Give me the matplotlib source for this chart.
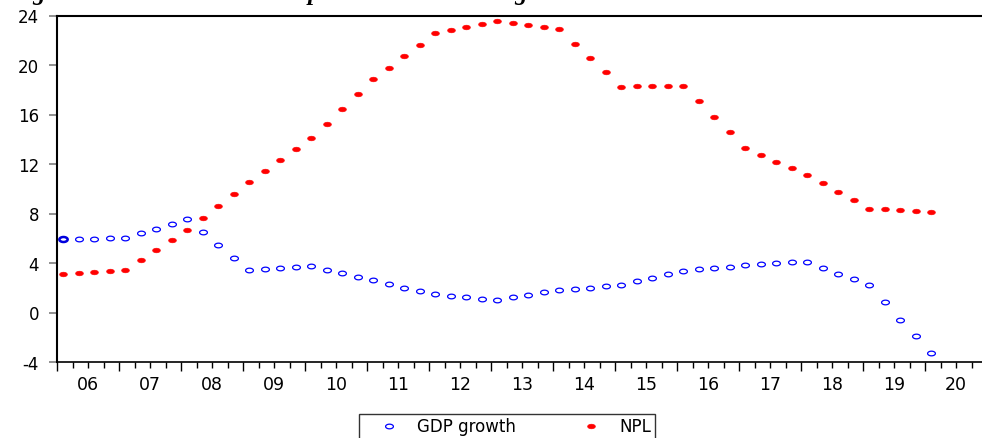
import numpy as np
import matplotlib
matplotlib.use("Agg")
import matplotlib.pyplot as plt
from matplotlib.path import Path
from matplotlib.lines import Line2D

# ---------------- data (quarterly, 2006Q1 - 2020Q1) ----------------
start_year = 2006
n_quarters = 57
gdp_growth = [5.94, 5.97, 5.97, 6.00, 6.02, 6.40, 6.78, 7.18, 7.53, 6.50,
              5.48, 4.43, 3.40, 3.48, 3.56, 3.64, 3.73, 3.46, 3.16, 2.89,
              2.59, 2.32, 2.02, 1.73, 1.46, 1.35, 1.24, 1.13, 1.03, 1.24,
              1.43, 1.62, 1.81, 1.92, 2.02, 2.14, 2.25, 2.52, 2.79, 3.08,
              3.35, 3.48, 3.59, 3.70, 3.83, 3.91, 3.97, 4.05, 4.10, 3.62,
              3.13, 2.67, 2.19, 0.84, -0.57, -1.92, -3.29]
npl = [3.13, 3.21, 3.29, 3.37, 3.45, 4.24, 5.05, 5.83, 6.64, 7.61,
       8.61, 9.58, 10.55, 11.45, 12.30, 13.20, 14.10, 15.20, 16.44, 17.63,
       18.84, 19.76, 20.70, 21.64, 22.56, 22.81, 23.08, 23.32, 23.56, 23.40,
       23.24, 23.08, 22.89, 21.72, 20.57, 19.41, 18.24, 18.27, 18.27, 18.30,
       18.33, 17.06, 15.79, 14.55, 13.28, 12.74, 12.20, 11.66, 11.12, 10.45,
       9.77, 9.09, 8.40, 8.34, 8.30, 8.20, 8.15]
year_labels = ['06', '07', '08', '09', '10', '11', '12', '13', '14', '15',
               '16', '17', '18', '19', '20']
y_ticks = [-4, 0, 4, 8, 12, 16, 20, 24]
series_labels = ['GDP growth', 'NPL']
title = "Figure 1: The NPL ratio compared with the GDP growth"

# ---------------- figure ----------------
W, H = 982, 439
fig = plt.figure(figsize=(W / 100, H / 100), dpi=100)
ax = fig.add_axes([57 / W, 1 - 363 / H, (987 - 57) / W, (363 - 16.5) / H])

x = start_year + 0.1 + np.arange(n_quarters) * 0.25

# elliptical marker (the reference is horizontally stretched)
t = np.linspace(0, 2 * np.pi, 61)
ell = Path(np.column_stack([np.cos(t), 0.6 * np.sin(t)]), closed=True)

blue = '#0000ff'
red = '#ff0000'
ax.plot(x, gdp_growth, ls='none', marker=ell, ms=5.6, mfc='none', mec=blue,
        mew=0.9, zorder=3)
ax.plot(x, npl, ls='none', marker=ell, ms=5.6, mfc=red, mec=red, mew=0.4,
        zorder=3)
ax.plot(x[:1], gdp_growth[:1], ls='none', marker=ell, ms=6.0, mfc='none',
        mec='#0000dd', mew=1.8, zorder=4)

ax.set_xlim(start_year, start_year + len(year_labels))
ax.set_ylim(-4, 24)

for s in ['left', 'top', 'right']:
    ax.spines[s].set_linewidth(1.5)
ax.spines['bottom'].set_linewidth(1.2)
for s in ax.spines.values():
    s.set_color('black')

ax.set_yticks(y_ticks)
ax.set_yticklabels([str(v) for v in y_ticks])
ax.tick_params(axis='y', direction='out', length=6, width=1.3, color='#888888',
               pad=7, labelsize=12)

years = np.arange(start_year, start_year + len(year_labels) + 1)
ax.set_xticks(years)
ax.set_xticklabels([''] * len(years))
ax.set_xticks(np.arange(start_year, start_year + len(year_labels) + 0.01, 0.25),
              minor=True)
ax.tick_params(axis='x', which='major', direction='out', length=6.5, width=1.0,
               color='black')
ax.tick_params(axis='x', which='minor', direction='out', length=4, width=1.0,
               color='black')

sec = ax.secondary_xaxis('bottom')
sec.set_xticks(years[:-1] + 0.5)
sec.set_xticklabels(year_labels)
sec.tick_params(length=0, pad=9.5, labelsize=12.5)
sec.spines['bottom'].set_visible(False)

handles = [
    Line2D([], [], ls='none', marker=ell, ms=5.6, mfc='none', mec=blue, mew=0.9),
    Line2D([], [], ls='none', marker=ell, ms=5.6, mfc=red, mec=red, mew=0.4),
]
leg = fig.legend(handles, series_labels, loc='upper left',
                 bbox_to_anchor=(359 / W, 1 - 415 / H), ncol=2, frameon=True,
                 fancybox=False, edgecolor='black', fontsize=12,
                 borderpad=0.2, handlelength=3.2, handletextpad=0.1,
                 columnspacing=2.9, borderaxespad=0)
leg.get_frame().set_linewidth(1.0)

fig.text(10 / W, 1.0, title, family='Liberation Serif', style='italic',
         weight='bold', fontsize=17.7, va='baseline', ha='left')

fig.savefig('out.png', dpi=100)
